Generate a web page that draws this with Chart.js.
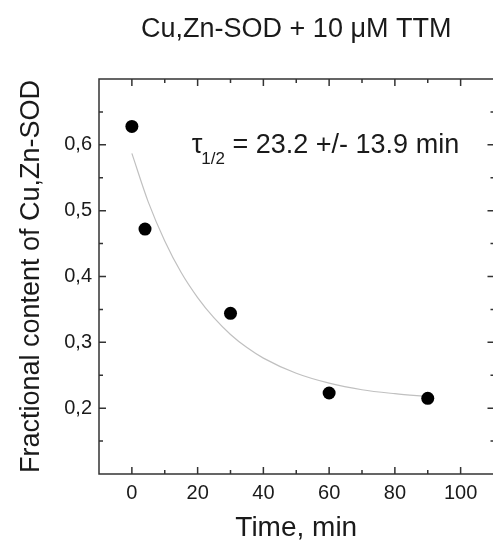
<!DOCTYPE html>
<html>
<head>
<meta charset="utf-8">
<script src="https://cdn.jsdelivr.net/npm/chart.js@4.4.1/dist/chart.umd.min.js"></script>
<style>
  html, body { margin: 0; padding: 0; background: #fff; overflow: hidden; }
  canvas { display: block; }
</style>
</head>
<body>
<canvas id="chart" width="500" height="545"></canvas>
<script>
// measured points
var timeMin = [0, 4, 30, 60, 90];
var fraction = [0.628, 0.472, 0.344, 0.223, 0.215];
// fitted curve
var fitTime = [0, 5, 10, 15, 20, 25, 30, 35, 40, 50, 60, 70, 80, 90];
var fitValue = [0.587, 0.513, 0.454, 0.406, 0.368, 0.337, 0.312, 0.292, 0.276, 0.253, 0.238, 0.228, 0.222, 0.2175];

var xMajor = [0, 20, 40, 60, 80, 100];
var xMinor = [10, 30, 50, 70, 90];
var yMajor = [0.2, 0.3, 0.4, 0.5, 0.6];
var yMinor = [0.15, 0.25, 0.35, 0.45, 0.55, 0.65];

var titleText = "Cu,Zn-SOD + 10 \u03bcM TTM";
var xTitle = "Time, min";
var yTitle = "Fractional content of Cu,Zn-SOD";
var noteMain = "\u03c4";
var noteSub = "1/2";
var noteRest = " = 23.2 +/- 13.9 min";
var noteAt = { x: 18.2, y: 0.587 };

var FONT = "'Liberation Sans', Arial, sans-serif";
var TEXT = "#1a1a1a";

function toXY(xs, ys) {
  return xs.map(function (x, i) { return { x: x, y: ys[i] }; });
}

var framePlugin = {
  id: "frame",
  afterDraw: function (chart) {
    var c = chart.ctx, a = chart.chartArea;
    var xs = chart.scales.x, ys = chart.scales.y;
    c.save();
    c.strokeStyle = "#333";
    c.lineWidth = 1.5;
    // left, top, bottom edges (right edge falls outside the picture)
    c.beginPath();
    c.moveTo(a.right + 4, a.top); c.lineTo(a.left, a.top);
    c.lineTo(a.left, a.bottom); c.lineTo(a.right + 4, a.bottom);
    c.stroke();

    c.beginPath();
    function xTick(v, len) {
      var p = xs.getPixelForValue(v);
      c.moveTo(p, a.bottom); c.lineTo(p, a.bottom - len);
      c.moveTo(p, a.top); c.lineTo(p, a.top + len);
    }
    function yTick(v, len) {
      var p = ys.getPixelForValue(v);
      c.moveTo(a.left, p); c.lineTo(a.left + len, p);
      c.moveTo(a.right + 1, p); c.lineTo(a.right + 1 - len, p);
    }
    xMajor.forEach(function (v) { xTick(v, 7); });
    xMinor.forEach(function (v) { xTick(v, 4); });
    yMajor.forEach(function (v) { yTick(v, 7); });
    yMinor.forEach(function (v) { yTick(v, 4); });
    c.stroke();

    // title over the plot area
    c.fillStyle = TEXT;
    c.font = "27px " + FONT;
    c.textAlign = "center";
    c.textBaseline = "alphabetic";
    c.fillText(titleText, (a.left + a.right) / 2, 37);

    // half-life note
    var nx = xs.getPixelForValue(noteAt.x);
    var ny = ys.getPixelForValue(noteAt.y);
    c.textAlign = "left";
    c.font = "27px " + FONT;
    c.fillText(noteMain, nx, ny);
    var w1 = c.measureText(noteMain).width;
    c.font = "17px " + FONT;
    c.fillText(noteSub, nx + w1 - 1, ny + 11);
    var w2 = c.measureText(noteSub).width;
    c.font = "27px " + FONT;
    c.fillText(noteRest, nx + w1 + w2 - 1, ny);
    c.restore();
  }
};

var ctx = document.getElementById("chart").getContext("2d");

const chart = new Chart(ctx, {
  type: "scatter",
  data: {
    datasets: [
      {
        label: "data",
        data: toXY(timeMin, fraction),
        backgroundColor: "#000",
        borderWidth: 0,
        pointRadius: 6.5,
        pointHoverRadius: 6.5
      },
      {
        label: "fit",
        data: toXY(fitTime, fitValue),
        showLine: true,
        borderColor: "#c0c0c0",
        borderWidth: 1.2,
        pointRadius: 0,
        cubicInterpolationMode: "monotone"
      }
    ]
  },
  options: {
    responsive: false,
    animation: false,
    devicePixelRatio: 1,
    layout: { padding: { top: 79, right: 0, left: 0, bottom: 0 } },
    plugins: {
      legend: { display: false },
      title: { display: false },
      tooltip: { enabled: false }
    },
    scales: {
      x: {
        type: "linear",
        min: -10,
        max: 110,
        afterBuildTicks: function (s) {
          s.ticks = xMajor.map(function (v) { return { value: v }; });
        },
        afterFit: function (s) { s.height = 71; },
        grid: { display: false, drawTicks: false },
        border: { display: false },
        ticks: {
          font: { family: FONT, size: 20 },
          color: TEXT,
          padding: 7,
          maxRotation: 0
        },
        title: {
          display: true,
          text: xTitle,
          font: { family: FONT, size: 28 },
          color: TEXT,
          padding: 0
        }
      },
      y: {
        type: "linear",
        min: 0.1,
        max: 0.7,
        afterBuildTicks: function (s) {
          s.ticks = yMajor.map(function (v) { return { value: v }; });
        },
        afterFit: function (s) { s.width = 99; },
        grid: { display: false, drawTicks: false },
        border: { display: false },
        ticks: {
          font: { family: FONT, size: 20 },
          color: TEXT,
          padding: 7,
          callback: function (v) { return v.toFixed(1).replace(".", ","); }
        },
        title: {
          display: true,
          text: yTitle,
          font: { family: FONT, size: 27 },
          color: TEXT,
          padding: { top: 15, bottom: 0 }
        }
      }
    }
  },
  plugins: [framePlugin]
});
</script>
</body>
</html>
